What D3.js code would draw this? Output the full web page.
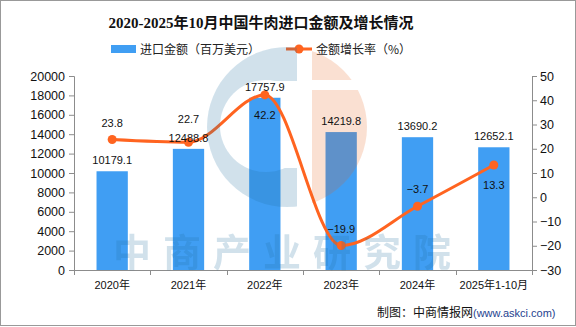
<!DOCTYPE html>
<html>
<head>
<meta charset="utf-8">
<script src="https://cdn.jsdelivr.net/npm/d3@7/dist/d3.min.js"></script>
<style>
  html, body { margin: 0; padding: 0; background: #fff; }
  svg { display: block; }
</style>
</head>
<body>
<svg id="chart" width="576" height="327"></svg>
<script>
// Beef import value and its year-on-year growth, 2020 – Jan-Oct 2025
const categories = ["2020年", "2021年", "2022年", "2023年", "2024年", "2025年1-10月"];
const importValue = [10179.1, 12488.8, 17757.9, 14219.8, 13690.2, 12652.1]; // 百万美元
const growthRate = [23.8, 22.7, 42.2, -19.9, -3.7, 13.3];                   // %
const leftTicks = [0, 2000, 4000, 6000, 8000, 10000, 12000, 14000, 16000, 18000, 20000];
const rightTicks = [-30, -20, -10, 0, 10, 20, 30, 40, 50];
// which side of its point each growth label sits on
const growthLabelSide = ["top", "top", "bottom", "top", "top", "bottom"];

const title = "2020-2025年10月中国牛肉进口金额及增长情况";
const legendBar = "进口金额（百万美元）";
const legendLine = "金额增长率（%）";
const credit = "制图：中商情报网";
const creditUrl = "(www.askci.com)";

const W = 576, H = 327;
const plot = { left: 74, right: 532, top: 76, bottom: 270 };
const barColor = "#409ef3";
const lineColor = "#ff6420";
const axisColor = "#8c8c8c";
const sans = "'Liberation Sans', 'Noto Sans CJK SC', sans-serif";
const cjk = "'Noto Sans CJK SC', 'Liberation Sans', sans-serif";

const svg = d3.select("#chart");

// frame
svg.append("rect")
  .attr("x", 0.5).attr("y", 0.5).attr("width", W - 1).attr("height", H - 2)
  .attr("fill", "#fff").attr("stroke", "#999").attr("stroke-width", 1);

// scales
const x = d3.scaleBand().domain(categories)
  .range([plot.left, plot.right]).paddingInner(0.59).paddingOuter(0.295);
const yL = d3.scaleLinear().domain([0, 20000]).range([plot.bottom, plot.top]);
const yR = d3.scaleLinear().domain([-30, 50]).range([plot.bottom, plot.top]);
const cx = c => x(c) + x.bandwidth() / 2;

// title
svg.append("text")
  .attr("x", 261).attr("y", 28).attr("text-anchor", "middle")
  .attr("font-family", "'Liberation Serif', 'Noto Sans CJK SC', serif")
  .attr("font-weight", "bold").attr("font-size", 15).attr("fill", "#111")
  .text(title);

// legend
const lg = svg.append("g").attr("font-family", cjk).attr("font-size", 12).attr("fill", "#222");
lg.append("rect").attr("x", 111).attr("y", 45).attr("width", 25).attr("height", 8).attr("fill", barColor);
lg.append("text").attr("x", 140).attr("y", 53.5).text(legendBar);
lg.append("line").attr("x1", 286).attr("x2", 312).attr("y1", 49).attr("y2", 49)
  .attr("stroke", lineColor).attr("stroke-width", 3);
lg.append("circle").attr("cx", 299).attr("cy", 49).attr("r", 4.5).attr("fill", lineColor);
lg.append("text").attr("x", 316).attr("y", 53.5).text(legendLine);

// watermark: logo and organisation name (drawn beneath the value labels)
const defs = svg.append("defs");
const lc = { x: 287, y: 127, r: 80 };
const blueMask = defs.append("mask").attr("id", "blueMask");
blueMask.append("rect").attr("x", 0).attr("y", 0).attr("width", W).attr("height", H).attr("fill", "#000");
blueMask.append("circle").attr("cx", lc.x).attr("cy", lc.y).attr("r", lc.r).attr("fill", "#fff");
blueMask.append("rect").attr("x", lc.x + 10).attr("y", 0).attr("width", W).attr("height", H).attr("fill", "#000");
blueMask.append("circle").attr("cx", 266).attr("cy", 126).attr("r", 46).attr("fill", "#000");
blueMask.append("rect").attr("x", 266).attr("y", 81).attr("width", 40).attr("height", 87).attr("fill", "#000");
const orangeMask = defs.append("mask").attr("id", "orangeMask");
orangeMask.append("rect").attr("x", 0).attr("y", 0).attr("width", W).attr("height", H).attr("fill", "#000");
orangeMask.append("circle").attr("cx", lc.x).attr("cy", lc.y).attr("r", lc.r).attr("fill", "#fff");
orangeMask.append("rect").attr("x", 0).attr("y", 0).attr("width", lc.x + 25).attr("height", H).attr("fill", "#000");
orangeMask.append("rect").attr("x", 0).attr("y", 80).attr("width", W).attr("height", 10).attr("fill", "#000");

// left axis
const axL = svg.append("g").attr("transform", `translate(${plot.left},0)`)
  .call(d3.axisLeft(yL).tickValues(leftTicks).tickSize(5).tickPadding(4).tickFormat(d3.format("d")));
// right axis
const axR = svg.append("g").attr("transform", `translate(${plot.right},0)`)
  .call(d3.axisRight(yR).tickValues(rightTicks).tickSize(5).tickPadding(3).tickFormat(d => d < 0 ? "−" + Math.abs(d) : d));
[axL, axR].forEach(g => {
  g.select(".domain").attr("stroke", axisColor);
  g.selectAll(".tick line").attr("stroke", axisColor);
  g.selectAll(".tick text").attr("fill", "#111").attr("font-family", sans).attr("font-size", 12.5);
});

// x axis with ticks on band boundaries
const axX = svg.append("g");
axX.append("line").attr("x1", plot.left).attr("x2", plot.right)
  .attr("y1", plot.bottom + 0.5).attr("y2", plot.bottom + 0.5).attr("stroke", axisColor);
const bounds = d3.range(categories.length + 1).map(i => plot.left + i * x.step());
axX.selectAll("line.tk").data(bounds).join("line").attr("class", "tk")
  .attr("x1", d => Math.round(d) + 0.5).attr("x2", d => Math.round(d) + 0.5)
  .attr("y1", plot.bottom).attr("y2", plot.bottom + 5).attr("stroke", axisColor);
axX.selectAll("text").data(categories).join("text")
  .attr("x", d => cx(d)).attr("y", 289).attr("text-anchor", "middle")
  .attr("font-family", sans).attr("font-size", 11).attr("fill", "#111")
  .text(d => d);

// bars
svg.append("g").selectAll("rect").data(importValue).join("rect")
  .attr("x", (d, i) => x(categories[i])).attr("width", x.bandwidth())
  .attr("y", d => yL(d)).attr("height", d => plot.bottom - yL(d))
  .attr("fill", barColor);

// growth line
const pts = growthRate.map((v, i) => [cx(categories[i]), yR(v)]);
svg.append("path").datum(pts)
  .attr("d", d3.line().curve(d3.curveMonotoneX))
  .attr("fill", "none").attr("stroke", lineColor).attr("stroke-width", 3);
svg.append("g").selectAll("circle").data(pts).join("circle")
  .attr("cx", d => d[0]).attr("cy", d => d[1]).attr("r", 4.5).attr("fill", lineColor);

// translucent watermark over the marks
const wm = svg.append("g").attr("pointer-events", "none");
wm.append("rect").attr("x", 0).attr("y", 0).attr("width", W).attr("height", H)
  .attr("mask", "url(#blueMask)").attr("fill", "rgb(30,110,160)").attr("opacity", 0.2);
wm.append("rect").attr("x", 0).attr("y", 0).attr("width", W).attr("height", H)
  .attr("mask", "url(#orangeMask)").attr("fill", "rgb(230,95,25)").attr("opacity", 0.19);
wm.append("text").attr("x", 288).attr("y", 266).attr("text-anchor", "middle")
  .attr("font-family", cjk).attr("font-weight", "bold").attr("font-size", 38)
  .attr("letter-spacing", 12).attr("fill", "rgb(30,110,160)").attr("opacity", 0.2)
  .text("中商产业研究院");

// bar value labels
svg.append("g").selectAll("text").data(importValue).join("text")
  .attr("x", (d, i) => cx(categories[i])).attr("y", d => yL(d) - 7)
  .attr("text-anchor", "middle").attr("font-family", sans).attr("font-size", 11).attr("fill", "#111")
  .text(d => d.toFixed(1));

// growth labels
svg.append("g").selectAll("text").data(growthRate).join("text")
  .attr("x", (d, i) => cx(categories[i]))
  .attr("y", (d, i) => growthLabelSide[i] === "top" ? yR(d) - (i === 1 ? 19 : 13) : yR(d) + 24)
  .attr("text-anchor", "middle").attr("font-family", sans).attr("font-size", 11).attr("fill", "#111")
  .text(d => d < 0 ? "−" + Math.abs(d).toFixed(1) : d.toFixed(1));

// credit line
const cr = svg.append("text").attr("x", 377).attr("y", 317).attr("font-family", cjk).attr("font-size", 12);
cr.append("tspan").attr("fill", "#111").text(credit);
cr.append("tspan").attr("fill", "#1f3f8f").attr("font-family", sans).attr("font-size", 11).text(creditUrl);
</script>
</body>
</html>
